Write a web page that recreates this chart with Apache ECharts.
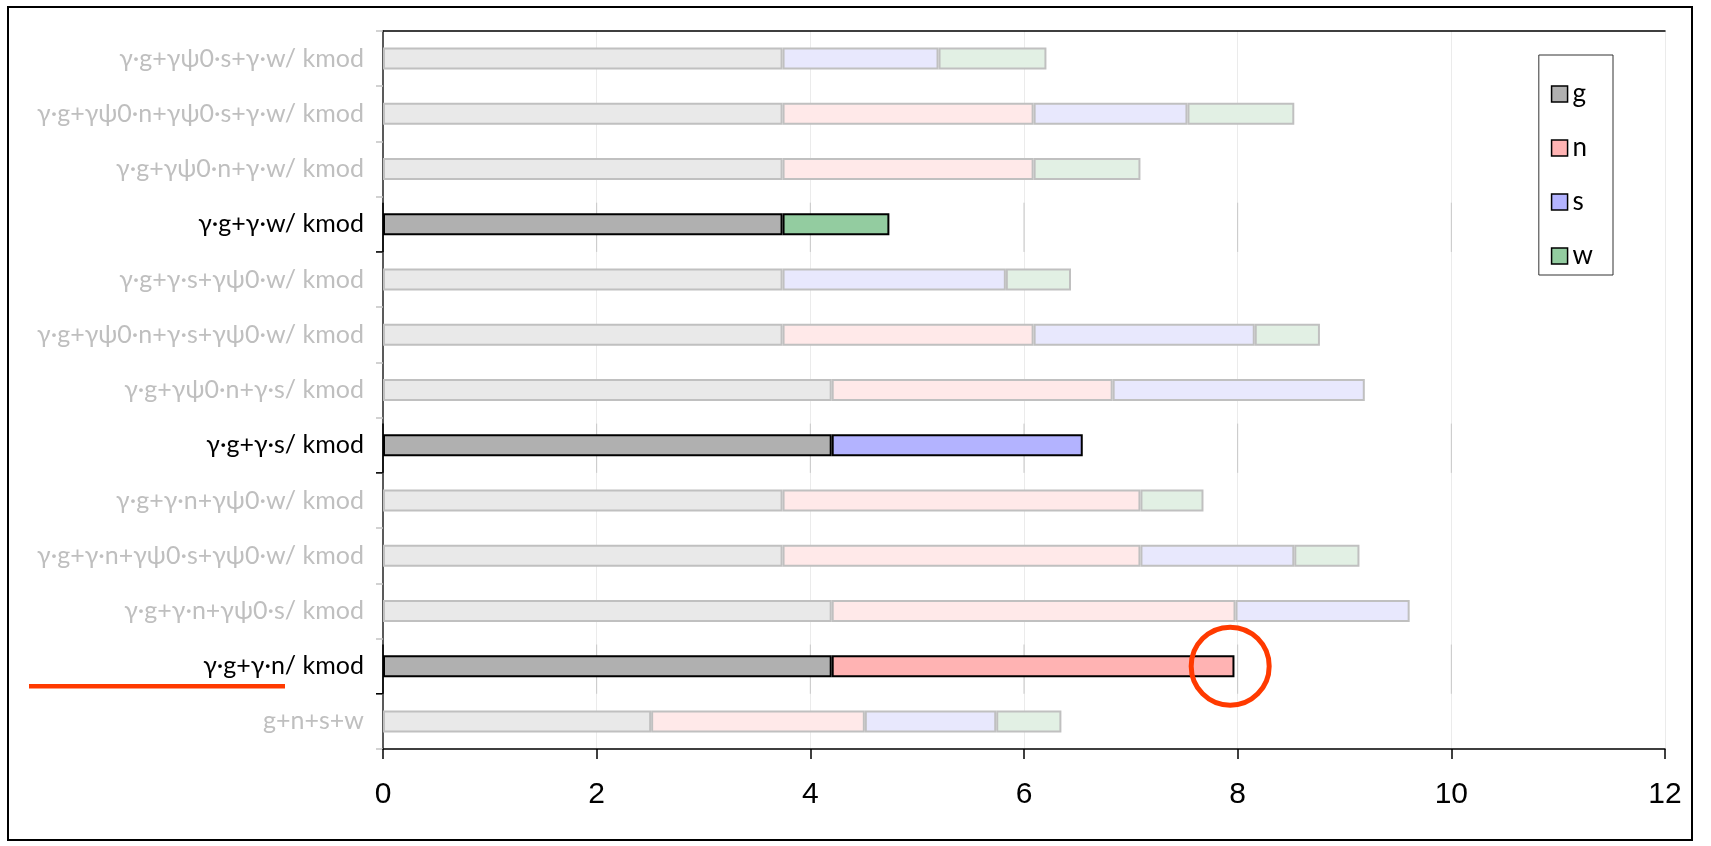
<!DOCTYPE html>
<html>
<head>
<meta charset="utf-8">
<script src="https://cdn.jsdelivr.net/npm/echarts@6/dist/echarts.min.js"></script>
<style>
  html, body { margin: 0; padding: 0; background: #fff; }
  #chart { width: 1711px; height: 846px; }
</style>
</head>
<body>
<div id="chart"></div>
<script>
// categories, top to bottom
var categories = [
  'γ·g+γψ0·s+γ·w/ kmod',
  'γ·g+γψ0·n+γψ0·s+γ·w/ kmod',
  'γ·g+γψ0·n+γ·w/ kmod',
  'γ·g+γ·w/ kmod',
  'γ·g+γ·s+γψ0·w/ kmod',
  'γ·g+γψ0·n+γ·s+γψ0·w/ kmod',
  'γ·g+γψ0·n+γ·s/ kmod',
  'γ·g+γ·s/ kmod',
  'γ·g+γ·n+γψ0·w/ kmod',
  'γ·g+γ·n+γψ0·s+γψ0·w/ kmod',
  'γ·g+γ·n+γψ0·s/ kmod',
  'γ·g+γ·n/ kmod',
  'g+n+s+w'
];

var gValues = [3.74, 3.74, 3.74, 3.74, 3.74, 3.74, 4.20, 4.20, 3.74, 3.74, 4.20, 4.20, 2.51];
var nValues = [0, 2.35, 2.35, 0, 0, 2.35, 2.63, 0, 3.35, 3.35, 3.78, 3.77, 2.00];
var sValues = [1.46, 1.44, 0, 0, 2.09, 2.07, 2.36, 2.35, 0, 1.44, 1.63, 0, 1.23];
var wValues = [1.01, 1.00, 1.00, 1.00, 0.61, 0.61, 0, 0, 0.59, 0.61, 0, 0, 0.61];

// rows shown in full colour
var highlighted = ['γ·g+γ·w/ kmod', 'γ·g+γ·s/ kmod', 'γ·g+γ·n/ kmod'];

var xTicks = [0, 2, 4, 6, 8, 10, 12];

var circledRow = 'γ·g+γ·n/ kmod';
var circledValue = 7.93;

var components = [
  { name: 'g', values: gValues, full: '#b0b0b0', faded: '#e9e9e9' },
  { name: 'n', values: nValues, full: '#ffb3b3', faded: '#ffe9e9' },
  { name: 's', values: sValues, full: '#b3b3ff', faded: '#e8e8fd' },
  { name: 'w', values: wValues, full: '#93cca0', faded: '#e2f0e4' }
];

var chart = echarts.init(document.getElementById('chart'));

var labelFont = 'Lato, "Open Sans", sans-serif';

function isOn(i) {
  return highlighted.indexOf(categories[i]) >= 0;
}

var barSeries = components.map(function (c) {
  return {
    name: c.name,
    type: 'bar',
    stack: 'total',
    barWidth: 22,
    z: 3,
    itemStyle: { color: c.full, borderColor: '#000', borderWidth: 2 },
    data: c.values.map(function (v, i) {
      if (!v) return '-';
      var on = isOn(i);
      return {
        value: v,
        itemStyle: {
          color: on ? c.full : c.faded,
          borderColor: on ? '#000' : '#c0c0c0',
          borderWidth: 2
        }
      };
    })
  };
});

// darker axis / gridline pieces in the highlighted rows
var hlIndex = categories.map(function (c, i) { return i; }).filter(isOn);
var accentSeries = {
  type: 'custom',
  z: 1,
  silent: true,
  data: hlIndex.map(function (i) { return [0, i]; }),
  renderItem: function (params, api) {
    var p = api.coord([0, api.value(1)]);
    var h = api.size([0, 1])[1];
    var top = p[1] - h / 2 + 6;
    var bottom = p[1] + h / 2;
    var children = [];
    xTicks.slice(1, -1).forEach(function (t) {
      var x = api.coord([t, api.value(1)])[0];
      children.push({
        type: 'line',
        shape: { x1: x, y1: top, x2: x, y2: bottom },
        style: { stroke: '#c8c8c8', lineWidth: 1 }
      });
    });
    children.push({
      type: 'line',
      shape: { x1: p[0], y1: top, x2: p[0], y2: bottom },
      style: { stroke: '#000', lineWidth: 1.5 }
    });
    children.push({
      type: 'line',
      shape: { x1: p[0] - 7, y1: bottom, x2: p[0], y2: bottom },
      style: { stroke: '#000', lineWidth: 1.5 }
    });
    return { type: 'group', children: children };
  }
};

var option = {
  animation: false,
  backgroundColor: '#fff',
  grid: { left: 383, right: 46, top: 31, bottom: 97, containLabel: false },
  legend: {
    data: ['g', 'n', 's', 'w'],
    orient: 'vertical',
    right: 98,
    top: 55,
    padding: [24, 20, 4, 12],
    itemWidth: 16,
    itemHeight: 16,
    itemGap: 24,
    icon: 'rect',
    backgroundColor: '#fff',
    borderColor: '#333',
    borderWidth: 1,
    selectedMode: false,
    itemStyle: { borderColor: '#000', borderWidth: 1.5 },
    textStyle: { fontFamily: labelFont, fontSize: 26, lineHeight: 27, color: '#000', padding: [0, 0, 3, 0] }
  },
  xAxis: [{
    type: 'value',
    min: 0,
    max: 12,
    interval: 2,
    axisLine: { show: true, lineStyle: { color: '#000', width: 1.5 } },
    axisTick: { show: true, length: 10, lineStyle: { color: '#000', width: 1.5 } },
    axisLabel: {
      margin: 31,
      fontFamily: '"Liberation Sans", Arial, sans-serif',
      fontSize: 30,
      color: '#000'
    },
    splitLine: { show: true, lineStyle: { color: '#ebebeb', width: 1 } }
  }, {
    type: 'value',
    position: 'top',
    min: 0,
    max: 12,
    axisLine: { show: true, lineStyle: { color: '#000', width: 1.5 } },
    axisTick: { show: false },
    axisLabel: { show: false },
    splitLine: { show: false }
  }],
  yAxis: [{
    type: 'category',
    inverse: true,
    data: categories,
    axisLine: { show: true, lineStyle: { color: '#c4c4c4', width: 1.5 } },
    axisTick: { show: true, length: 7, lineStyle: { color: '#c4c4c4', width: 1.5 } },
    axisLabel: {
      margin: 19,
      fontFamily: labelFont,
      fontSize: 25,
      color: function (v) {
        return highlighted.indexOf(v) >= 0 ? '#000' : '#bfbfbf';
      }
    },
    splitLine: { show: false }
  }, {
    type: 'category',
    position: 'right',
    inverse: true,
    data: categories,
    axisLine: { show: true, lineStyle: { color: '#333', width: 1.5 } },
    axisTick: { show: false },
    axisLabel: { show: false }
  }],
  series: barSeries.concat([accentSeries])
};

chart.setOption(option);

// red markup drawn on top of the chart
var circ = chart.convertToPixel({ xAxisIndex: 0, yAxisIndex: 0 }, [circledValue, categories.indexOf(circledRow)]);
chart.setOption({
  graphic: [
    {
      type: 'rect',
      shape: { x: 8, y: 7, width: 1684, height: 833 },
      style: { fill: 'none', stroke: '#000', lineWidth: 2 },
      z: 100
    },
    {
      type: 'circle',
      shape: { cx: circ[0], cy: circ[1], r: 39 },
      style: { fill: 'none', stroke: '#ff3a00', lineWidth: 5 },
      z: 100
    },
    {
      type: 'line',
      shape: { x1: 29, y1: circ[1] + 20, x2: 285, y2: circ[1] + 20 },
      style: { stroke: '#ff3a00', lineWidth: 4.5 },
      z: 100
    }
  ]
});
</script>
</body>
</html>
